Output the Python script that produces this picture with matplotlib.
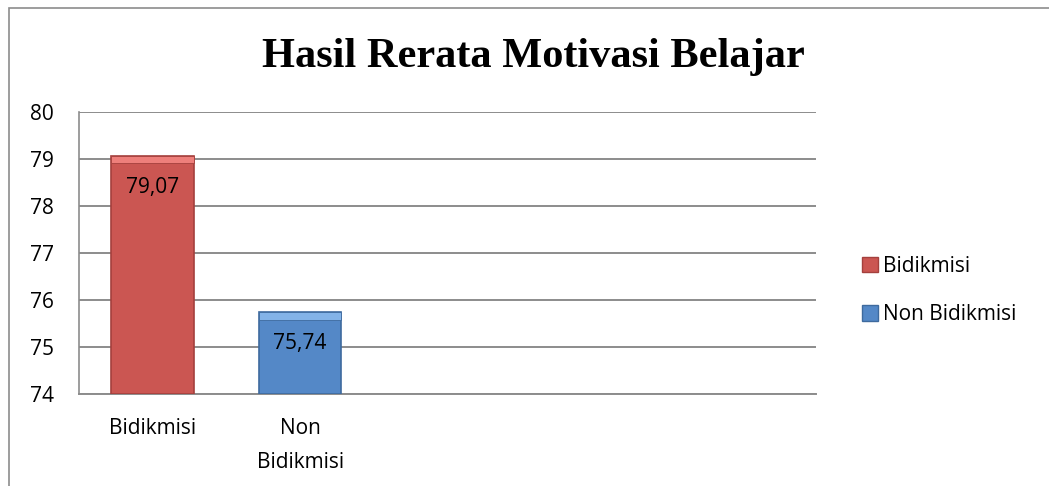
import matplotlib.pyplot as plt
from matplotlib.patches import Rectangle, Patch

# Data
kategori = ["Bidikmisi", "Non\nBidikmisi"]
nilai = [79.07, 75.74]
label_nilai = ["79,07", "75,74"]
seri = ["Bidikmisi", "Non Bidikmisi"]
warna = ["#CB5652", "#5488C7"]
warna_atas = ["#EE7F7B", "#83B3E8"]
warna_tepi = ["#A4403D", "#3E6A9E"]
yticks = [74, 75, 76, 77, 78, 79, 80]

plt.rcParams['font.family'] = ['Open Sans', 'DejaVu Sans']

fig = plt.figure(figsize=(10.49, 4.86), dpi=100)
fig.patches.append(Rectangle((9 / 1049, -0.1), 1.2, 1.1 - 8 / 486,
                             transform=fig.transFigure, fill=False,
                             edgecolor="#8C8C8C", linewidth=1.2))

ax = fig.add_axes([0.0753, 0.1893, 0.7026, 0.5802])
x = range(len(nilai))
lebar = 0.56
ax.bar(x, [v - 74 for v in nilai], bottom=74, width=lebar, color=warna,
       edgecolor=warna_tepi, linewidth=1.2, zorder=3)
# lighter top bevel
ax.bar(x, [0.16] * len(nilai), bottom=[v - 0.16 for v in nilai], width=lebar,
       color=warna_atas, edgecolor=warna_tepi, linewidth=0.6, zorder=4)

for xi, v, t in zip(x, nilai, label_nilai):
    ax.text(xi, v - 0.67, t, ha="center", va="center", fontsize=15,
            color="black", zorder=5)

ax.set_xlim(-0.5, 4.5)
ax.set_ylim(74, 80)
ax.set_yticks(yticks)
ax.set_yticklabels([str(t) for t in yticks], fontsize=15)
ax.set_xticks(list(x))
ax.set_xticklabels(kategori, fontsize=15, linespacing=1.85, va="top")
ax.tick_params(axis="both", length=0)
ax.tick_params(axis="x", pad=17)
ax.tick_params(axis="y", pad=18)
ax.yaxis.grid(True, color="#8C8C8C", linewidth=1.4, zorder=0)
ax.set_axisbelow(True)
for s in ["top", "right"]:
    ax.spines[s].set_visible(False)
ax.spines["left"].set_color("#8C8C8C")
ax.spines["left"].set_linewidth(1.2)
ax.spines["bottom"].set_color("#8C8C8C")
ax.spines["bottom"].set_linewidth(1.4)

fig.text(0.508, 1 - 57 / 486, "Hasil Rerata Motivasi Belajar",
         ha="center", va="center", fontsize=30.5, fontweight="bold",
         family="Liberation Serif")

handles = [Patch(facecolor=c, edgecolor=e) for c, e in zip(warna, warna_tepi)]
fig.legend(handles, seri, loc="center left", bbox_to_anchor=(0.804, 0.402),
           frameon=False, fontsize=15, handlelength=0.75, handleheight=0.75,
           handletextpad=0.25, labelspacing=1.3)

fig.savefig("out.png", dpi=100)
